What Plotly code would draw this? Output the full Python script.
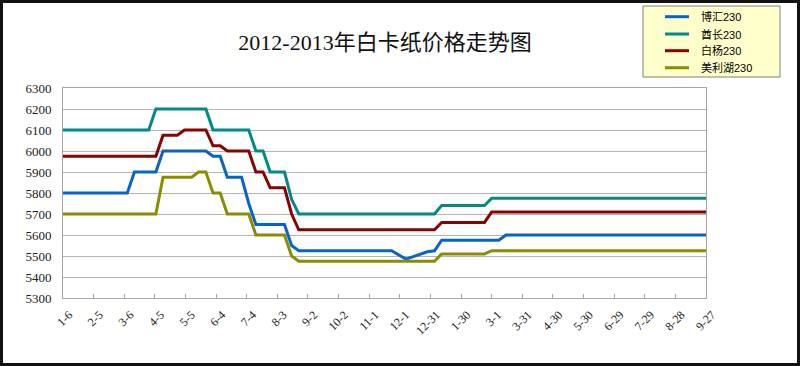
import plotly.graph_objects as go
import pandas as pd

# ---- data ----
series_names = ["博汇230", "酋长230", "白杨230", "美利湖230"]
series_colors = ["#0A64C8", "#008A8A", "#8B0000", "#8C8C00"]

blue_dates = ["2012-01-06", "2012-03-09", "2012-03-16", "2012-04-06", "2012-04-13", "2012-05-25",
              "2012-06-01", "2012-06-08", "2012-06-15", "2012-06-29", "2012-07-06", "2012-07-13",
              "2012-08-10", "2012-08-17", "2012-08-24", "2012-11-23", "2012-12-07", "2012-12-28",
              "2013-01-04", "2013-01-11", "2013-03-08", "2013-03-15", "2013-09-27"]
blue_vals = [5800, 5800, 5900, 5900, 6000, 6000, 5975, 5975, 5875, 5875, 5750, 5650,
             5650, 5550, 5525, 5525, 5485, 5520, 5525, 5575, 5575, 5600, 5600]

teal_dates = ["2012-01-06", "2012-03-30", "2012-04-06", "2012-05-25", "2012-06-01", "2012-07-06",
              "2012-07-13", "2012-07-20", "2012-07-27", "2012-08-10", "2012-08-17", "2012-08-24",
              "2013-01-04", "2013-01-11", "2013-02-22", "2013-03-01", "2013-09-27"]
teal_vals = [6100, 6100, 6200, 6200, 6100, 6100, 6000, 6000, 5900, 5900, 5770, 5700,
             5700, 5740, 5740, 5775, 5775]

red_dates = ["2012-01-06", "2012-04-06", "2012-04-13", "2012-04-27", "2012-05-04", "2012-05-25",
             "2012-06-01", "2012-06-08", "2012-06-15", "2012-07-06", "2012-07-13", "2012-07-20",
             "2012-07-27", "2012-08-10", "2012-08-17", "2012-08-24", "2013-01-04", "2013-01-11",
             "2013-02-22", "2013-03-01", "2013-09-27"]
red_vals = [5975, 5975, 6075, 6075, 6100, 6100, 6025, 6025, 6000, 6000, 5900, 5900,
            5825, 5825, 5700, 5625, 5625, 5660, 5660, 5710, 5710]

olive_dates = ["2012-01-06", "2012-04-06", "2012-04-13", "2012-05-11", "2012-05-18", "2012-05-25",
               "2012-06-01", "2012-06-08", "2012-06-15", "2012-07-06", "2012-07-13", "2012-08-10",
               "2012-08-17", "2012-08-24", "2013-01-04", "2013-01-11", "2013-02-22", "2013-03-01",
               "2013-09-27"]
olive_vals = [5700, 5700, 5875, 5875, 5900, 5900, 5800, 5800, 5700, 5700, 5600, 5600,
              5500, 5475, 5475, 5510, 5510, 5525, 5525]

tick_labels = ["1-6", "2-5", "3-6", "4-5", "5-5", "6-4", "7-4", "8-3", "9-2", "10-2", "11-1",
               "12-1", "12-31", "1-30", "3-1", "3-31", "4-30", "5-30", "6-29", "7-29", "8-28", "9-27"]
axis_start = "2012-01-06"
axis_end = "2013-09-27"
tick_step_days = 30
y_min, y_max, y_step = 5300, 6300, 100

title_text = "2012-2013年白卡纸价格走势图"

# ---- figure ----
W, H = 800, 366
ml, mr, mt, mb = 63, 94, 88, 68
pw, ph = W - ml - mr, H - mt - mb

tick_dates = pd.date_range(axis_start, periods=len(tick_labels), freq=f"{tick_step_days}D")

fig = go.Figure()
all_dates = [blue_dates, teal_dates, red_dates, olive_dates]
all_vals = [blue_vals, teal_vals, red_vals, olive_vals]
for name, color, d, v in zip(series_names, series_colors, all_dates, all_vals):
    fig.add_trace(go.Scatter(
        x=pd.to_datetime(d), y=v, name=name, mode="lines",
        line=dict(color=color, width=3), showlegend=False,
    ))

fig.update_layout(
    width=W, height=H,
    margin=dict(l=ml, r=mr, t=mt, b=mb, pad=0, autoexpand=False),
    paper_bgcolor="white", plot_bgcolor="white",
    title=dict(text=title_text, x=385 / W, xanchor="center", y=1 - 42 / H, yanchor="middle",
               font=dict(family="Liberation Serif, Noto Sans CJK SC", size=22, color="#111111")),
    showlegend=False,
)

fig.update_xaxes(
    type="date", range=[pd.Timestamp(axis_start), pd.Timestamp(axis_end)],
    tickvals=tick_dates, ticktext=tick_labels, tickangle=-45,
    showgrid=False, showline=True, linecolor="#A6A6A6", linewidth=1, mirror=True,
    ticks="inside", ticklen=4, tickcolor="#A6A6A6",
    ticklabelshift=6, ticklabelstandoff=4,
    tickfont=dict(family="Liberation Serif", size=12, color="#222222"),
    zeroline=False, fixedrange=True,
)
fig.update_yaxes(
    range=[y_min, y_max], dtick=y_step, tick0=y_min,
    showgrid=True, gridcolor="#B4B4B4", gridwidth=1,
    showline=True, linecolor="#A6A6A6", linewidth=1, mirror=True,
    ticks="", ticklabelstandoff=8,
    tickfont=dict(family="Liberation Serif", size=13, color="#222222"),
    zeroline=False, fixedrange=True,
)

# ---- legend box (pixel layout converted to paper coords) ----
def px_x(x):
    return (x - ml) / pw

def px_y(y):
    return 1 - (y - mt) / ph

leg_left, leg_right, leg_top, leg_bottom = 643, 780, 6, 77
fig.add_shape(type="rect", xref="paper", yref="paper",
              x0=px_x(leg_left), x1=px_x(leg_right), y0=px_y(leg_bottom), y1=px_y(leg_top),
              fillcolor="#FFFFCC", line=dict(color="#7F7F7F", width=1), layer="above")
row_y = [16.7, 34, 50.7, 67.7]
for name, color, ry in zip(series_names, series_colors, row_y):
    fig.add_shape(type="line", xref="paper", yref="paper",
                  x0=px_x(665), x1=px_x(689), y0=px_y(ry), y1=px_y(ry),
                  line=dict(color=color, width=3), layer="above")
    fig.add_annotation(xref="paper", yref="paper", x=px_x(699), y=px_y(ry),
                       xanchor="left", yanchor="middle", showarrow=False, text=name,
                       font=dict(family="Liberation Sans, Noto Sans CJK SC", size=11, color="#000000"))

# black frame around the whole picture
inset = 1.5
fig.add_shape(type="rect", xref="paper", yref="paper",
              x0=(-ml + inset) / pw, x1=1 + (mr - inset) / pw,
              y0=(-mb + inset) / ph, y1=1 + (mt - inset) / ph,
              line=dict(color="#111111", width=3), layer="above")

fig.write_html("out.html", config={"displayModeBar": False},
               post_script="document.body.style.margin='0px';")
